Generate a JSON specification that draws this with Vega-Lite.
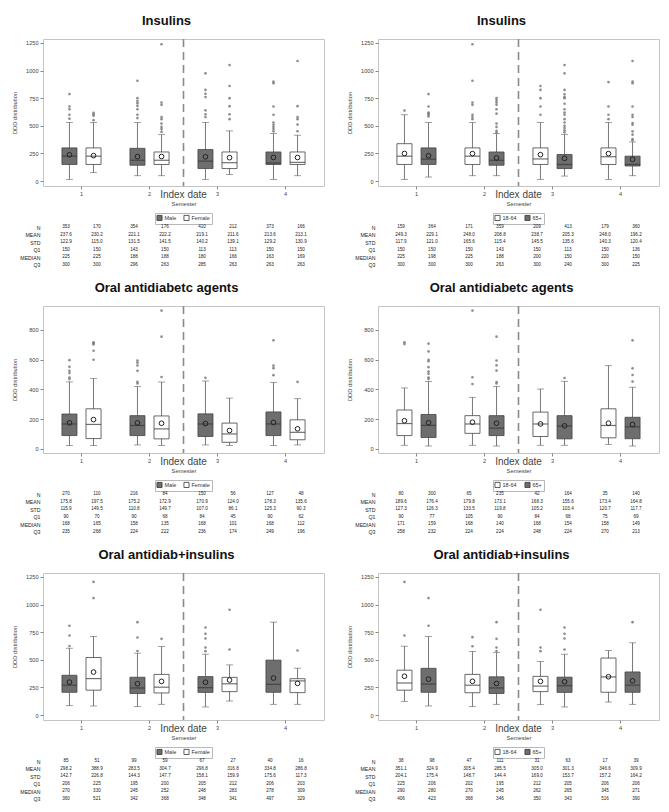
{
"$schema": "https://vega.github.io/schema/vega-lite/v6.json",
"padding": {"left": 11, "top": 14, "right": 5, "bottom": 5},
"config": {
 "font": "Liberation Sans",
 "view": {"stroke": "#c4c4c4", "strokeWidth": 1},
 "axis": {"labelFontSize": 5.6, "labelColor": "#444", "titleFontSize": 5.8, "titleFontWeight": "normal", "titleColor": "#444", "tickColor": "#888", "tickSize": 3, "domain": false, "grid": false, "labelPadding": 2},
 "axisY": {"minExtent": 20, "maxExtent": 20, "titlePadding": 5.5},
 "axisX": {"titlePadding": 4},
 "legend": {"labelFontSize": 5.5, "labelColor": "#333", "symbolType": "square", "symbolSize": 26, "symbolStrokeColor": "#333", "symbolStrokeWidth": 0.8, "strokeColor": "#b8b8b8", "padding": 1.5, "offset": 6, "columnPadding": 5, "labelOffset": 2, "layout": {"bottom": {"anchor": "middle"}}},
 "title": {"fontSize": 13, "fontWeight": "bold", "color": "#111", "offset": 10, "anchor": "middle"}
},
"datasets": {
"boxes": [
{"p":"L1","sem":1,"grp":"Male","lo":15,"q1":150,"med":225,"q3":300,"hi":530,"mean":237.6,"N":"353","MEAN":"237.6","STD":"122.9","Q1":"150","MEDIAN":"225","Q3":"300"},
{"p":"L1","sem":1,"grp":"Female","lo":76,"q1":150,"med":225,"q3":300,"hi":530,"mean":230.2,"N":"170","MEAN":"230.2","STD":"115.0","Q1":"150","MEDIAN":"225","Q3":"300"},
{"p":"L1","sem":2,"grp":"Male","lo":48,"q1":143,"med":188,"q3":296,"hi":530,"mean":221.1,"N":"354","MEAN":"221.1","STD":"131.5","Q1":"143","MEDIAN":"188","Q3":"296"},
{"p":"L1","sem":2,"grp":"Female","lo":48,"q1":150,"med":188,"q3":263,"hi":420,"mean":222.2,"N":"176","MEAN":"222.2","STD":"141.5","Q1":"150","MEDIAN":"188","Q3":"263"},
{"p":"L1","sem":3,"grp":"Male","lo":15,"q1":113,"med":180,"q3":285,"hi":530,"mean":219.1,"N":"410","MEAN":"219.1","STD":"140.2","Q1":"113","MEDIAN":"180","Q3":"285"},
{"p":"L1","sem":3,"grp":"Female","lo":60,"q1":113,"med":166,"q3":263,"hi":454,"mean":211.6,"N":"212","MEAN":"211.6","STD":"139.1","Q1":"113","MEDIAN":"166","Q3":"263"},
{"p":"L1","sem":4,"grp":"Male","lo":15,"q1":150,"med":163,"q3":263,"hi":430,"mean":213.6,"N":"373","MEAN":"213.6","STD":"129.2","Q1":"150","MEDIAN":"163","Q3":"263"},
{"p":"L1","sem":4,"grp":"Female","lo":48,"q1":150,"med":169,"q3":263,"hi":415,"mean":213.1,"N":"166","MEAN":"213.1","STD":"130.9","Q1":"150","MEDIAN":"169","Q3":"263"},
{"p":"R1","sem":1,"grp":"18-64","lo":15,"q1":150,"med":225,"q3":338,"hi":600,"mean":249.3,"N":"159","MEAN":"249.3","STD":"117.9","Q1":"150","MEDIAN":"225","Q3":"300"},
{"p":"R1","sem":1,"grp":"65+","lo":36,"q1":150,"med":198,"q3":300,"hi":530,"mean":229.1,"N":"364","MEAN":"229.1","STD":"121.0","Q1":"150","MEDIAN":"198","Q3":"300"},
{"p":"R1","sem":2,"grp":"18-64","lo":48,"q1":150,"med":225,"q3":300,"hi":530,"mean":248.0,"N":"171","MEAN":"248.0","STD":"165.6","Q1":"150","MEDIAN":"225","Q3":"300"},
{"p":"R1","sem":2,"grp":"65+","lo":48,"q1":143,"med":188,"q3":263,"hi":430,"mean":208.8,"N":"359","MEAN":"208.8","STD":"115.4","Q1":"143","MEDIAN":"188","Q3":"263"},
{"p":"R1","sem":3,"grp":"18-64","lo":15,"q1":150,"med":200,"q3":300,"hi":530,"mean":238.7,"N":"209","MEAN":"238.7","STD":"145.5","Q1":"150","MEDIAN":"200","Q3":"300"},
{"p":"R1","sem":3,"grp":"65+","lo":45,"q1":113,"med":150,"q3":240,"hi":420,"mean":205.3,"N":"413","MEAN":"205.3","STD":"135.6","Q1":"113","MEDIAN":"150","Q3":"240"},
{"p":"R1","sem":4,"grp":"18-64","lo":15,"q1":150,"med":220,"q3":300,"hi":530,"mean":248.0,"N":"179","MEAN":"248.0","STD":"140.3","Q1":"150","MEDIAN":"220","Q3":"300"},
{"p":"R1","sem":4,"grp":"65+","lo":48,"q1":136,"med":150,"q3":225,"hi":354,"mean":196.2,"N":"360","MEAN":"196.2","STD":"120.4","Q1":"136","MEDIAN":"150","Q3":"225"},
{"p":"L2","sem":1,"grp":"Male","lo":23,"q1":90,"med":168,"q3":235,"hi":451,"mean":175.8,"N":"270","MEAN":"175.8","STD":"115.9","Q1":"90","MEDIAN":"168","Q3":"235"},
{"p":"L2","sem":1,"grp":"Female","lo":23,"q1":70,"med":165,"q3":270,"hi":473,"mean":197.5,"N":"110","MEAN":"197.5","STD":"149.5","Q1":"70","MEDIAN":"165","Q3":"268"},
{"p":"L2","sem":2,"grp":"Male","lo":27,"q1":90,"med":158,"q3":224,"hi":420,"mean":175.2,"N":"216","MEAN":"175.2","STD":"110.8","Q1":"90","MEDIAN":"158","Q3":"224"},
{"p":"L2","sem":2,"grp":"Female","lo":23,"q1":68,"med":135,"q3":222,"hi":450,"mean":172.9,"N":"84","MEAN":"172.9","STD":"149.7","Q1":"68","MEDIAN":"135","Q3":"222"},
{"p":"L2","sem":3,"grp":"Male","lo":27,"q1":84,"med":168,"q3":236,"hi":457,"mean":170.9,"N":"150","MEAN":"170.9","STD":"107.0","Q1":"84","MEDIAN":"168","Q3":"236"},
{"p":"L2","sem":3,"grp":"Female","lo":23,"q1":45,"med":101,"q3":174,"hi":342,"mean":124.0,"N":"56","MEAN":"124.0","STD":"86.1","Q1":"45","MEDIAN":"101","Q3":"174"},
{"p":"L2","sem":4,"grp":"Male","lo":23,"q1":90,"med":168,"q3":249,"hi":448,"mean":178.3,"N":"127","MEAN":"178.3","STD":"125.3","Q1":"90","MEDIAN":"168","Q3":"249"},
{"p":"L2","sem":4,"grp":"Female","lo":27,"q1":62,"med":112,"q3":196,"hi":338,"mean":135.6,"N":"48","MEAN":"135.6","STD":"90.3","Q1":"62","MEDIAN":"112","Q3":"196"},
{"p":"R2","sem":1,"grp":"18-64","lo":25,"q1":90,"med":171,"q3":262,"hi":410,"mean":189.6,"N":"80","MEAN":"189.6","STD":"127.3","Q1":"90","MEDIAN":"171","Q3":"258"},
{"p":"R2","sem":1,"grp":"65+","lo":20,"q1":77,"med":159,"q3":232,"hi":453,"mean":176.4,"N":"300","MEAN":"176.4","STD":"126.3","Q1":"77","MEDIAN":"159","Q3":"232"},
{"p":"R2","sem":2,"grp":"18-64","lo":25,"q1":105,"med":168,"q3":224,"hi":347,"mean":179.8,"N":"65","MEAN":"179.8","STD":"133.5","Q1":"105","MEDIAN":"168","Q3":"224"},
{"p":"R2","sem":2,"grp":"65+","lo":20,"q1":90,"med":140,"q3":224,"hi":421,"mean":173.1,"N":"235","MEAN":"173.1","STD":"119.8","Q1":"90","MEDIAN":"140","Q3":"224"},
{"p":"R2","sem":3,"grp":"18-64","lo":25,"q1":84,"med":168,"q3":248,"hi":403,"mean":168.3,"N":"42","MEAN":"168.3","STD":"105.2","Q1":"84","MEDIAN":"168","Q3":"248"},
{"p":"R2","sem":3,"grp":"65+","lo":25,"q1":68,"med":154,"q3":224,"hi":455,"mean":155.6,"N":"164","MEAN":"155.6","STD":"103.4","Q1":"68","MEDIAN":"154","Q3":"224"},
{"p":"R2","sem":4,"grp":"18-64","lo":31,"q1":75,"med":158,"q3":270,"hi":560,"mean":173.4,"N":"35","MEAN":"173.4","STD":"120.7","Q1":"75","MEDIAN":"158","Q3":"270"},
{"p":"R2","sem":4,"grp":"65+","lo":20,"q1":69,"med":149,"q3":213,"hi":415,"mean":164.8,"N":"140","MEAN":"164.8","STD":"117.7","Q1":"69","MEDIAN":"149","Q3":"213"},
{"p":"L3","sem":1,"grp":"Male","lo":85,"q1":206,"med":270,"q3":360,"hi":605,"mean":298.2,"N":"85","MEAN":"298.2","STD":"142.7","Q1":"206","MEDIAN":"270","Q3":"360"},
{"p":"L3","sem":1,"grp":"Female","lo":82,"q1":225,"med":330,"q3":521,"hi":711,"mean":388.9,"N":"51","MEAN":"388.9","STD":"226.8","Q1":"225","MEDIAN":"330","Q3":"521"},
{"p":"L3","sem":2,"grp":"Male","lo":76,"q1":195,"med":245,"q3":342,"hi":560,"mean":283.5,"N":"99","MEAN":"283.5","STD":"144.3","Q1":"195","MEDIAN":"245","Q3":"342"},
{"p":"L3","sem":2,"grp":"Female","lo":97,"q1":200,"med":252,"q3":368,"hi":620,"mean":304.7,"N":"59","MEAN":"304.7","STD":"147.7","Q1":"200","MEDIAN":"252","Q3":"368"},
{"p":"L3","sem":3,"grp":"Male","lo":73,"q1":205,"med":248,"q3":348,"hi":551,"mean":296.8,"N":"67","MEAN":"296.8","STD":"158.1","Q1":"205","MEDIAN":"248","Q3":"348"},
{"p":"L3","sem":3,"grp":"Female","lo":127,"q1":212,"med":283,"q3":341,"hi":454,"mean":316.8,"N":"27","MEAN":"316.8","STD":"159.9","Q1":"212","MEDIAN":"283","Q3":"341"},
{"p":"L3","sem":4,"grp":"Male","lo":97,"q1":206,"med":278,"q3":497,"hi":841,"mean":334.8,"N":"40","MEAN":"334.8","STD":"175.6","Q1":"206","MEDIAN":"278","Q3":"497"},
{"p":"L3","sem":4,"grp":"Female","lo":97,"q1":203,"med":309,"q3":329,"hi":424,"mean":286.8,"N":"16","MEAN":"286.8","STD":"117.3","Q1":"203","MEDIAN":"309","Q3":"329"},
{"p":"R3","sem":1,"grp":"18-64","lo":124,"q1":225,"med":290,"q3":406,"hi":623,"mean":351.1,"N":"38","MEAN":"351.1","STD":"204.1","Q1":"225","MEDIAN":"290","Q3":"406"},
{"p":"R3","sem":1,"grp":"65+","lo":82,"q1":206,"med":280,"q3":423,"hi":711,"mean":324.9,"N":"98","MEAN":"324.9","STD":"175.4","Q1":"206","MEDIAN":"280","Q3":"423"},
{"p":"R3","sem":2,"grp":"18-64","lo":76,"q1":202,"med":270,"q3":368,"hi":575,"mean":305.4,"N":"47","MEAN":"305.4","STD":"148.7","Q1":"202","MEDIAN":"270","Q3":"368"},
{"p":"R3","sem":2,"grp":"65+","lo":97,"q1":195,"med":245,"q3":346,"hi":565,"mean":285.5,"N":"111","MEAN":"285.5","STD":"144.4","Q1":"195","MEDIAN":"245","Q3":"346"},
{"p":"R3","sem":3,"grp":"18-64","lo":94,"q1":212,"med":262,"q3":350,"hi":484,"mean":305.0,"N":"31","MEAN":"305.0","STD":"169.0","Q1":"212","MEDIAN":"262","Q3":"350"},
{"p":"R3","sem":3,"grp":"65+","lo":73,"q1":205,"med":265,"q3":343,"hi":551,"mean":301.3,"N":"63","MEAN":"301.3","STD":"153.7","Q1":"205","MEDIAN":"265","Q3":"343"},
{"p":"R3","sem":4,"grp":"18-64","lo":118,"q1":206,"med":345,"q3":516,"hi":584,"mean":346.6,"N":"17","MEAN":"346.6","STD":"157.2","Q1":"206","MEDIAN":"345","Q3":"516"},
{"p":"R3","sem":4,"grp":"65+","lo":97,"q1":206,"med":271,"q3":390,"hi":654,"mean":309.9,"N":"39","MEAN":"309.9","STD":"164.2","Q1":"206","MEDIAN":"271","Q3":"390"}
],
"outliers": [
{"p":"L1","sem":1,"grp":"Male","v":787},{"p":"L1","sem":1,"grp":"Male","v":675},{"p":"L1","sem":1,"grp":"Male","v":650},{"p":"L1","sem":1,"grp":"Male","v":600},{"p":"L1","sem":1,"grp":"Male","v":565},
{"p":"L1","sem":1,"grp":"Female","v":617},{"p":"L1","sem":1,"grp":"Female","v":605},{"p":"L1","sem":1,"grp":"Female","v":590},{"p":"L1","sem":1,"grp":"Female","v":551},
{"p":"L1","sem":2,"grp":"Male","v":908},{"p":"L1","sem":2,"grp":"Male","v":750},{"p":"L1","sem":2,"grp":"Male","v":725},{"p":"L1","sem":2,"grp":"Male","v":705},{"p":"L1","sem":2,"grp":"Male","v":680},{"p":"L1","sem":2,"grp":"Male","v":650},{"p":"L1","sem":2,"grp":"Male","v":600},{"p":"L1","sem":2,"grp":"Male","v":570},
{"p":"L1","sem":2,"grp":"Female","v":1238},{"p":"L1","sem":2,"grp":"Female","v":711},{"p":"L1","sem":2,"grp":"Female","v":690},{"p":"L1","sem":2,"grp":"Female","v":580},{"p":"L1","sem":2,"grp":"Female","v":560},{"p":"L1","sem":2,"grp":"Female","v":520},{"p":"L1","sem":2,"grp":"Female","v":490},{"p":"L1","sem":2,"grp":"Female","v":470},{"p":"L1","sem":2,"grp":"Female","v":445},
{"p":"L1","sem":3,"grp":"Male","v":975},{"p":"L1","sem":3,"grp":"Male","v":825},{"p":"L1","sem":3,"grp":"Male","v":790},{"p":"L1","sem":3,"grp":"Male","v":760},{"p":"L1","sem":3,"grp":"Male","v":640},{"p":"L1","sem":3,"grp":"Male","v":605},{"p":"L1","sem":3,"grp":"Male","v":580},
{"p":"L1","sem":3,"grp":"Female","v":1050},{"p":"L1","sem":3,"grp":"Female","v":860},{"p":"L1","sem":3,"grp":"Female","v":750},{"p":"L1","sem":3,"grp":"Female","v":678},{"p":"L1","sem":3,"grp":"Female","v":605},{"p":"L1","sem":3,"grp":"Female","v":560},
{"p":"L1","sem":4,"grp":"Male","v":900},{"p":"L1","sem":4,"grp":"Male","v":885},{"p":"L1","sem":4,"grp":"Male","v":675},{"p":"L1","sem":4,"grp":"Male","v":600},{"p":"L1","sem":4,"grp":"Male","v":530},{"p":"L1","sem":4,"grp":"Male","v":510},{"p":"L1","sem":4,"grp":"Male","v":490},{"p":"L1","sem":4,"grp":"Male","v":470},{"p":"L1","sem":4,"grp":"Male","v":450},
{"p":"L1","sem":4,"grp":"Female","v":1087},{"p":"L1","sem":4,"grp":"Female","v":678},{"p":"L1","sem":4,"grp":"Female","v":580},{"p":"L1","sem":4,"grp":"Female","v":560},{"p":"L1","sem":4,"grp":"Female","v":511},{"p":"L1","sem":4,"grp":"Female","v":451},
{"p":"R1","sem":1,"grp":"18-64","v":638},
{"p":"R1","sem":1,"grp":"65+","v":787},{"p":"R1","sem":1,"grp":"65+","v":675},{"p":"R1","sem":1,"grp":"65+","v":620},{"p":"R1","sem":1,"grp":"65+","v":610},{"p":"R1","sem":1,"grp":"65+","v":600},{"p":"R1","sem":1,"grp":"65+","v":585},
{"p":"R1","sem":2,"grp":"18-64","v":1238},{"p":"R1","sem":2,"grp":"18-64","v":908},{"p":"R1","sem":2,"grp":"18-64","v":711},{"p":"R1","sem":2,"grp":"18-64","v":690},{"p":"R1","sem":2,"grp":"18-64","v":600},{"p":"R1","sem":2,"grp":"18-64","v":580},{"p":"R1","sem":2,"grp":"18-64","v":560},
{"p":"R1","sem":2,"grp":"65+","v":750},{"p":"R1","sem":2,"grp":"65+","v":730},{"p":"R1","sem":2,"grp":"65+","v":710},{"p":"R1","sem":2,"grp":"65+","v":690},{"p":"R1","sem":2,"grp":"65+","v":650},{"p":"R1","sem":2,"grp":"65+","v":610},{"p":"R1","sem":2,"grp":"65+","v":520},{"p":"R1","sem":2,"grp":"65+","v":490},{"p":"R1","sem":2,"grp":"65+","v":455},{"p":"R1","sem":2,"grp":"65+","v":440},
{"p":"R1","sem":3,"grp":"18-64","v":860},{"p":"R1","sem":3,"grp":"18-64","v":825},{"p":"R1","sem":3,"grp":"18-64","v":750},{"p":"R1","sem":3,"grp":"18-64","v":675},{"p":"R1","sem":3,"grp":"18-64","v":600},
{"p":"R1","sem":3,"grp":"65+","v":1050},{"p":"R1","sem":3,"grp":"65+","v":975},{"p":"R1","sem":3,"grp":"65+","v":825},{"p":"R1","sem":3,"grp":"65+","v":785},{"p":"R1","sem":3,"grp":"65+","v":760},{"p":"R1","sem":3,"grp":"65+","v":750},{"p":"R1","sem":3,"grp":"65+","v":700},{"p":"R1","sem":3,"grp":"65+","v":650},{"p":"R1","sem":3,"grp":"65+","v":620},{"p":"R1","sem":3,"grp":"65+","v":600},{"p":"R1","sem":3,"grp":"65+","v":560},{"p":"R1","sem":3,"grp":"65+","v":530},{"p":"R1","sem":3,"grp":"65+","v":500},{"p":"R1","sem":3,"grp":"65+","v":480},{"p":"R1","sem":3,"grp":"65+","v":460},{"p":"R1","sem":3,"grp":"65+","v":440},
{"p":"R1","sem":4,"grp":"18-64","v":896},{"p":"R1","sem":4,"grp":"18-64","v":675},{"p":"R1","sem":4,"grp":"18-64","v":600},{"p":"R1","sem":4,"grp":"18-64","v":560},
{"p":"R1","sem":4,"grp":"65+","v":1087},{"p":"R1","sem":4,"grp":"65+","v":900},{"p":"R1","sem":4,"grp":"65+","v":885},{"p":"R1","sem":4,"grp":"65+","v":675},{"p":"R1","sem":4,"grp":"65+","v":600},{"p":"R1","sem":4,"grp":"65+","v":580},{"p":"R1","sem":4,"grp":"65+","v":525},{"p":"R1","sem":4,"grp":"65+","v":510},{"p":"R1","sem":4,"grp":"65+","v":450},{"p":"R1","sem":4,"grp":"65+","v":420},{"p":"R1","sem":4,"grp":"65+","v":380},{"p":"R1","sem":4,"grp":"65+","v":370},
{"p":"L2","sem":1,"grp":"Male","v":597},{"p":"L2","sem":1,"grp":"Male","v":552},{"p":"L2","sem":1,"grp":"Male","v":525},{"p":"L2","sem":1,"grp":"Male","v":510},{"p":"L2","sem":1,"grp":"Male","v":480},{"p":"L2","sem":1,"grp":"Male","v":470},
{"p":"L2","sem":1,"grp":"Female","v":717},{"p":"L2","sem":1,"grp":"Female","v":710},{"p":"L2","sem":1,"grp":"Female","v":703},{"p":"L2","sem":1,"grp":"Female","v":660},{"p":"L2","sem":1,"grp":"Female","v":600},
{"p":"L2","sem":2,"grp":"Male","v":595},{"p":"L2","sem":2,"grp":"Male","v":580},{"p":"L2","sem":2,"grp":"Male","v":561},{"p":"L2","sem":2,"grp":"Male","v":525},{"p":"L2","sem":2,"grp":"Male","v":451},{"p":"L2","sem":2,"grp":"Male","v":440},
{"p":"L2","sem":2,"grp":"Female","v":930},{"p":"L2","sem":2,"grp":"Female","v":755},{"p":"L2","sem":2,"grp":"Female","v":484},
{"p":"L2","sem":3,"grp":"Male","v":478},
{"p":"L2","sem":4,"grp":"Male","v":730},{"p":"L2","sem":4,"grp":"Male","v":560},{"p":"L2","sem":4,"grp":"Male","v":543},{"p":"L2","sem":4,"grp":"Male","v":496},
{"p":"L2","sem":4,"grp":"Female","v":451},
{"p":"R2","sem":1,"grp":"18-64","v":717},{"p":"R2","sem":1,"grp":"18-64","v":705},
{"p":"R2","sem":1,"grp":"65+","v":708},{"p":"R2","sem":1,"grp":"65+","v":656},{"p":"R2","sem":1,"grp":"65+","v":600},{"p":"R2","sem":1,"grp":"65+","v":590},{"p":"R2","sem":1,"grp":"65+","v":550},{"p":"R2","sem":1,"grp":"65+","v":520},{"p":"R2","sem":1,"grp":"65+","v":505},{"p":"R2","sem":1,"grp":"65+","v":480},{"p":"R2","sem":1,"grp":"65+","v":470},
{"p":"R2","sem":2,"grp":"18-64","v":930},{"p":"R2","sem":2,"grp":"18-64","v":482},{"p":"R2","sem":2,"grp":"18-64","v":437},
{"p":"R2","sem":2,"grp":"65+","v":755},{"p":"R2","sem":2,"grp":"65+","v":595},{"p":"R2","sem":2,"grp":"65+","v":562},{"p":"R2","sem":2,"grp":"65+","v":527},{"p":"R2","sem":2,"grp":"65+","v":450},{"p":"R2","sem":2,"grp":"65+","v":440},
{"p":"R2","sem":3,"grp":"65+","v":477},
{"p":"R2","sem":4,"grp":"65+","v":730},{"p":"R2","sem":4,"grp":"65+","v":542},{"p":"R2","sem":4,"grp":"65+","v":497},{"p":"R2","sem":4,"grp":"65+","v":453},
{"p":"L3","sem":1,"grp":"Male","v":808},{"p":"L3","sem":1,"grp":"Male","v":720},{"p":"L3","sem":1,"grp":"Male","v":625},
{"p":"L3","sem":1,"grp":"Female","v":1205},{"p":"L3","sem":1,"grp":"Female","v":1059},
{"p":"L3","sem":2,"grp":"Male","v":841},{"p":"L3","sem":2,"grp":"Male","v":702},{"p":"L3","sem":2,"grp":"Male","v":580},
{"p":"L3","sem":2,"grp":"Female","v":690},
{"p":"L3","sem":3,"grp":"Male","v":793},{"p":"L3","sem":3,"grp":"Male","v":735},{"p":"L3","sem":3,"grp":"Male","v":693},{"p":"L3","sem":3,"grp":"Male","v":611},{"p":"L3","sem":3,"grp":"Male","v":578},
{"p":"L3","sem":3,"grp":"Female","v":953},{"p":"L3","sem":3,"grp":"Female","v":593},
{"p":"L3","sem":4,"grp":"Female","v":584},
{"p":"R3","sem":1,"grp":"18-64","v":1205},{"p":"R3","sem":1,"grp":"18-64","v":720},
{"p":"R3","sem":1,"grp":"65+","v":1059},{"p":"R3","sem":1,"grp":"65+","v":808},
{"p":"R3","sem":2,"grp":"18-64","v":705},{"p":"R3","sem":2,"grp":"18-64","v":623},
{"p":"R3","sem":2,"grp":"65+","v":841},{"p":"R3","sem":2,"grp":"65+","v":690},{"p":"R3","sem":2,"grp":"65+","v":611},{"p":"R3","sem":2,"grp":"65+","v":580},
{"p":"R3","sem":3,"grp":"18-64","v":953},{"p":"R3","sem":3,"grp":"18-64","v":611},{"p":"R3","sem":3,"grp":"18-64","v":578},
{"p":"R3","sem":3,"grp":"65+","v":793},{"p":"R3","sem":3,"grp":"65+","v":735},{"p":"R3","sem":3,"grp":"65+","v":693},{"p":"R3","sem":3,"grp":"65+","v":593},
{"p":"R3","sem":4,"grp":"65+","v":841}
]
},
"columns": 2,
"spacing": {"row": 37.5, "column": 54},
"bounds": "flush",
"align": "each",
"resolve": {"scale": {"color": "independent", "xOffset": "independent", "x": "independent", "y": "independent"}, "legend": {"color": "independent"}},
"concat": [
{
 "title": {"text": "Insulins", "dx": -17},
 "width": 281, "height": 147,
 "layer": [
  {"data": {"name": "boxes"}, "transform": [{"filter": "datum.p == 'L1'"}],
   "encoding": {
    "x": {"field": "sem", "type": "ordinal", "scale": {"type": "band", "paddingInner": 0, "paddingOuter": 0.066}, "axis": {"title": "Semester", "labelAngle": 0}},
    "xOffset": {"field": "grp", "type": "nominal", "scale": {"type": "band", "domain": ["Male", "Female"], "paddingInner": 0.375, "paddingOuter": 0.6}}
   },
   "layer": [
    {"mark": {"type": "rule", "color": "#555", "strokeWidth": 0.8}, "encoding": {"y": {"field": "lo", "type": "quantitative", "title": "DDD distribution", "scale": {"domain": [-45, 1286], "nice": false, "zero": false}, "axis": {"values": [0, 250, 500, 750, 1000, 1250], "format": "d"}}, "y2": {"field": "hi"}}},
    {"mark": {"type": "tick", "orient": "horizontal", "size": 7, "thickness": 0.8, "color": "#555"}, "encoding": {"y": {"field": "lo", "type": "quantitative", "title": "DDD distribution", "scale": {"domain": [-45, 1286], "nice": false, "zero": false}, "axis": {"values": [0, 250, 500, 750, 1000, 1250], "format": "d"}}}},
    {"mark": {"type": "tick", "orient": "horizontal", "size": 7, "thickness": 0.8, "color": "#555"}, "encoding": {"y": {"field": "hi", "type": "quantitative", "title": "DDD distribution", "scale": {"domain": [-45, 1286], "nice": false, "zero": false}, "axis": {"values": [0, 250, 500, 750, 1000, 1250], "format": "d"}}}},
    {"mark": {"type": "bar", "stroke": "#444", "strokeWidth": 0.8}, "encoding": {"y": {"field": "q1", "type": "quantitative", "title": "DDD distribution", "scale": {"domain": [-45, 1286], "nice": false, "zero": false}, "axis": {"values": [0, 250, 500, 750, 1000, 1250], "format": "d"}}, "y2": {"field": "q3"}, "color": {"field": "grp", "type": "nominal", "scale": {"domain": ["Male", "Female"], "range": ["#6e6e6e", "#ffffff"]}, "legend": {"title": null, "orient": "bottom", "direction": "horizontal"}}}},
    {"mark": {"type": "tick", "orient": "horizontal", "size": 15, "thickness": 1.2, "color": "#333"}, "encoding": {"y": {"field": "med", "type": "quantitative", "title": "DDD distribution", "scale": {"domain": [-45, 1286], "nice": false, "zero": false}, "axis": {"values": [0, 250, 500, 750, 1000, 1250], "format": "d"}}}},
    {"mark": {"type": "point", "shape": "circle", "filled": false, "size": 22, "strokeWidth": 1, "color": "#222", "opacity": 1}, "encoding": {"y": {"field": "mean", "type": "quantitative", "title": "DDD distribution", "scale": {"domain": [-45, 1286], "nice": false, "zero": false}, "axis": {"values": [0, 250, 500, 750, 1000, 1250], "format": "d"}}}}
   ]},
  {"data": {"name": "outliers"}, "transform": [{"filter": "datum.p == 'L1'"}],
   "mark": {"type": "point", "shape": "circle", "filled": true, "size": 7, "color": "#7a7a7a", "opacity": 0.85},
   "encoding": {
    "x": {"field": "sem", "type": "ordinal", "scale": {"type": "band", "paddingInner": 0, "paddingOuter": 0.066}, "axis": {"title": "Semester", "labelAngle": 0}},
    "xOffset": {"field": "grp", "type": "nominal", "scale": {"type": "band", "domain": ["Male", "Female"], "paddingInner": 0.375, "paddingOuter": 0.6}},
    "y": {"field": "v", "type": "quantitative", "title": "DDD distribution", "scale": {"domain": [-45, 1286], "nice": false, "zero": false}, "axis": {"values": [0, 250, 500, 750, 1000, 1250], "format": "d"}}
   }},
  {"data": {"values": [{}]}, "mark": {"type": "rule", "color": "#8a8a8a", "strokeWidth": 1.6, "strokeDash": [8, 5]},
   "encoding": {"x": {"datum": 2, "type": "ordinal", "bandPosition": 1, "axis": {"title": "Semester", "labelAngle": 0}}}},
  {"data": {"values": [{}]}, "mark": {"type": "text", "text": "Index date", "fontSize": 10, "color": "#444", "dy": 9, "baseline": "middle"},
   "encoding": {"x": {"datum": 2, "type": "ordinal", "bandPosition": 1, "axis": {"title": "Semester", "labelAngle": 0}}, "y": {"value": "height"}}}
 ]
},
{
 "title": {"text": "Insulins", "dx": -17},
 "width": 281, "height": 147,
 "layer": [
  {"data": {"name": "boxes"}, "transform": [{"filter": "datum.p == 'R1'"}],
   "encoding": {
    "x": {"field": "sem", "type": "ordinal", "scale": {"type": "band", "paddingInner": 0, "paddingOuter": 0.066}, "axis": {"title": "Semester", "labelAngle": 0}},
    "xOffset": {"field": "grp", "type": "nominal", "scale": {"type": "band", "domain": ["18-64", "65+"], "paddingInner": 0.375, "paddingOuter": 0.6}}
   },
   "layer": [
    {"mark": {"type": "rule", "color": "#555", "strokeWidth": 0.8}, "encoding": {"y": {"field": "lo", "type": "quantitative", "title": "DDD distribution", "scale": {"domain": [-45, 1286], "nice": false, "zero": false}, "axis": {"values": [0, 250, 500, 750, 1000, 1250], "format": "d"}}, "y2": {"field": "hi"}}},
    {"mark": {"type": "tick", "orient": "horizontal", "size": 7, "thickness": 0.8, "color": "#555"}, "encoding": {"y": {"field": "lo", "type": "quantitative", "title": "DDD distribution", "scale": {"domain": [-45, 1286], "nice": false, "zero": false}, "axis": {"values": [0, 250, 500, 750, 1000, 1250], "format": "d"}}}},
    {"mark": {"type": "tick", "orient": "horizontal", "size": 7, "thickness": 0.8, "color": "#555"}, "encoding": {"y": {"field": "hi", "type": "quantitative", "title": "DDD distribution", "scale": {"domain": [-45, 1286], "nice": false, "zero": false}, "axis": {"values": [0, 250, 500, 750, 1000, 1250], "format": "d"}}}},
    {"mark": {"type": "bar", "stroke": "#444", "strokeWidth": 0.8}, "encoding": {"y": {"field": "q1", "type": "quantitative", "title": "DDD distribution", "scale": {"domain": [-45, 1286], "nice": false, "zero": false}, "axis": {"values": [0, 250, 500, 750, 1000, 1250], "format": "d"}}, "y2": {"field": "q3"}, "color": {"field": "grp", "type": "nominal", "scale": {"domain": ["18-64", "65+"], "range": ["#ffffff", "#6e6e6e"]}, "legend": {"title": null, "orient": "bottom", "direction": "horizontal"}}}},
    {"mark": {"type": "tick", "orient": "horizontal", "size": 15, "thickness": 1.2, "color": "#333"}, "encoding": {"y": {"field": "med", "type": "quantitative", "title": "DDD distribution", "scale": {"domain": [-45, 1286], "nice": false, "zero": false}, "axis": {"values": [0, 250, 500, 750, 1000, 1250], "format": "d"}}}},
    {"mark": {"type": "point", "shape": "circle", "filled": false, "size": 22, "strokeWidth": 1, "color": "#222", "opacity": 1}, "encoding": {"y": {"field": "mean", "type": "quantitative", "title": "DDD distribution", "scale": {"domain": [-45, 1286], "nice": false, "zero": false}, "axis": {"values": [0, 250, 500, 750, 1000, 1250], "format": "d"}}}}
   ]},
  {"data": {"name": "outliers"}, "transform": [{"filter": "datum.p == 'R1'"}],
   "mark": {"type": "point", "shape": "circle", "filled": true, "size": 7, "color": "#7a7a7a", "opacity": 0.85},
   "encoding": {
    "x": {"field": "sem", "type": "ordinal", "scale": {"type": "band", "paddingInner": 0, "paddingOuter": 0.066}, "axis": {"title": "Semester", "labelAngle": 0}},
    "xOffset": {"field": "grp", "type": "nominal", "scale": {"type": "band", "domain": ["18-64", "65+"], "paddingInner": 0.375, "paddingOuter": 0.6}},
    "y": {"field": "v", "type": "quantitative", "title": "DDD distribution", "scale": {"domain": [-45, 1286], "nice": false, "zero": false}, "axis": {"values": [0, 250, 500, 750, 1000, 1250], "format": "d"}}
   }},
  {"data": {"values": [{}]}, "mark": {"type": "rule", "color": "#8a8a8a", "strokeWidth": 1.6, "strokeDash": [8, 5]},
   "encoding": {"x": {"datum": 2, "type": "ordinal", "bandPosition": 1, "axis": {"title": "Semester", "labelAngle": 0}}}},
  {"data": {"values": [{}]}, "mark": {"type": "text", "text": "Index date", "fontSize": 10, "color": "#444", "dy": 9, "baseline": "middle"},
   "encoding": {"x": {"datum": 2, "type": "ordinal", "bandPosition": 1, "axis": {"title": "Semester", "labelAngle": 0}}, "y": {"value": "height"}}}
 ]
},
{
 "width": 281, "height": 45, "view": {"stroke": null},
 "data": {"name": "boxes"},
 "transform": [{"filter": "datum.p == 'L1'"}, {"fold": ["N", "MEAN", "STD", "Q1", "MEDIAN", "Q3"], "as": ["stat", "txt"]}],
 "mark": {"type": "text", "fontSize": 4.6, "color": "#222"},
 "encoding": {
  "x": {"field": "sem", "type": "ordinal", "scale": {"type": "band", "paddingInner": 0, "paddingOuter": 0.066}, "axis": null},
  "xOffset": {"field": "grp", "type": "nominal", "scale": {"type": "band", "domain": ["Male", "Female"], "paddingInner": 0, "paddingOuter": 0.1}},
  "y": {"field": "stat", "type": "nominal", "sort": ["N", "MEAN", "STD", "Q1", "MEDIAN", "Q3"], "scale": {"type": "point", "padding": 0.5}, "axis": {"title": null, "ticks": false, "domain": false, "labelFontSize": 5.2, "labelPadding": 3, "labelColor": "#222"}},
  "text": {"field": "txt"}
 }
},
{
 "width": 281, "height": 45, "view": {"stroke": null},
 "data": {"name": "boxes"},
 "transform": [{"filter": "datum.p == 'R1'"}, {"fold": ["N", "MEAN", "STD", "Q1", "MEDIAN", "Q3"], "as": ["stat", "txt"]}],
 "mark": {"type": "text", "fontSize": 4.6, "color": "#222"},
 "encoding": {
  "x": {"field": "sem", "type": "ordinal", "scale": {"type": "band", "paddingInner": 0, "paddingOuter": 0.066}, "axis": null},
  "xOffset": {"field": "grp", "type": "nominal", "scale": {"type": "band", "domain": ["18-64", "65+"], "paddingInner": 0, "paddingOuter": 0.1}},
  "y": {"field": "stat", "type": "nominal", "sort": ["N", "MEAN", "STD", "Q1", "MEDIAN", "Q3"], "scale": {"type": "point", "padding": 0.5}, "axis": {"title": null, "ticks": false, "domain": false, "labelFontSize": 5.2, "labelPadding": 3, "labelColor": "#222"}},
  "text": {"field": "txt"}
 }
},
{
 "title": {"text": "Oral antidiabetc agents", "dx": -17},
 "width": 281, "height": 147,
 "layer": [
  {"data": {"name": "boxes"}, "transform": [{"filter": "datum.p == 'L2'"}],
   "encoding": {
    "x": {"field": "sem", "type": "ordinal", "scale": {"type": "band", "paddingInner": 0, "paddingOuter": 0.066}, "axis": {"title": "Semester", "labelAngle": 0}},
    "xOffset": {"field": "grp", "type": "nominal", "scale": {"type": "band", "domain": ["Male", "Female"], "paddingInner": 0.375, "paddingOuter": 0.6}}
   },
   "layer": [
    {"mark": {"type": "rule", "color": "#555", "strokeWidth": 0.8}, "encoding": {"y": {"field": "lo", "type": "quantitative", "title": "DDD distribution", "scale": {"domain": [-27, 961], "nice": false, "zero": false}, "axis": {"values": [0, 200, 400, 600, 800], "format": "d"}}, "y2": {"field": "hi"}}},
    {"mark": {"type": "tick", "orient": "horizontal", "size": 7, "thickness": 0.8, "color": "#555"}, "encoding": {"y": {"field": "lo", "type": "quantitative", "title": "DDD distribution", "scale": {"domain": [-27, 961], "nice": false, "zero": false}, "axis": {"values": [0, 200, 400, 600, 800], "format": "d"}}}},
    {"mark": {"type": "tick", "orient": "horizontal", "size": 7, "thickness": 0.8, "color": "#555"}, "encoding": {"y": {"field": "hi", "type": "quantitative", "title": "DDD distribution", "scale": {"domain": [-27, 961], "nice": false, "zero": false}, "axis": {"values": [0, 200, 400, 600, 800], "format": "d"}}}},
    {"mark": {"type": "bar", "stroke": "#444", "strokeWidth": 0.8}, "encoding": {"y": {"field": "q1", "type": "quantitative", "title": "DDD distribution", "scale": {"domain": [-27, 961], "nice": false, "zero": false}, "axis": {"values": [0, 200, 400, 600, 800], "format": "d"}}, "y2": {"field": "q3"}, "color": {"field": "grp", "type": "nominal", "scale": {"domain": ["Male", "Female"], "range": ["#6e6e6e", "#ffffff"]}, "legend": {"title": null, "orient": "bottom", "direction": "horizontal"}}}},
    {"mark": {"type": "tick", "orient": "horizontal", "size": 15, "thickness": 1.2, "color": "#333"}, "encoding": {"y": {"field": "med", "type": "quantitative", "title": "DDD distribution", "scale": {"domain": [-27, 961], "nice": false, "zero": false}, "axis": {"values": [0, 200, 400, 600, 800], "format": "d"}}}},
    {"mark": {"type": "point", "shape": "circle", "filled": false, "size": 22, "strokeWidth": 1, "color": "#222", "opacity": 1}, "encoding": {"y": {"field": "mean", "type": "quantitative", "title": "DDD distribution", "scale": {"domain": [-27, 961], "nice": false, "zero": false}, "axis": {"values": [0, 200, 400, 600, 800], "format": "d"}}}}
   ]},
  {"data": {"name": "outliers"}, "transform": [{"filter": "datum.p == 'L2'"}],
   "mark": {"type": "point", "shape": "circle", "filled": true, "size": 7, "color": "#7a7a7a", "opacity": 0.85},
   "encoding": {
    "x": {"field": "sem", "type": "ordinal", "scale": {"type": "band", "paddingInner": 0, "paddingOuter": 0.066}, "axis": {"title": "Semester", "labelAngle": 0}},
    "xOffset": {"field": "grp", "type": "nominal", "scale": {"type": "band", "domain": ["Male", "Female"], "paddingInner": 0.375, "paddingOuter": 0.6}},
    "y": {"field": "v", "type": "quantitative", "title": "DDD distribution", "scale": {"domain": [-27, 961], "nice": false, "zero": false}, "axis": {"values": [0, 200, 400, 600, 800], "format": "d"}}
   }},
  {"data": {"values": [{}]}, "mark": {"type": "rule", "color": "#8a8a8a", "strokeWidth": 1.6, "strokeDash": [8, 5]},
   "encoding": {"x": {"datum": 2, "type": "ordinal", "bandPosition": 1, "axis": {"title": "Semester", "labelAngle": 0}}}},
  {"data": {"values": [{}]}, "mark": {"type": "text", "text": "Index date", "fontSize": 10, "color": "#444", "dy": 9, "baseline": "middle"},
   "encoding": {"x": {"datum": 2, "type": "ordinal", "bandPosition": 1, "axis": {"title": "Semester", "labelAngle": 0}}, "y": {"value": "height"}}}
 ]
},
{
 "title": {"text": "Oral antidiabetc agents", "dx": -17},
 "width": 281, "height": 147,
 "layer": [
  {"data": {"name": "boxes"}, "transform": [{"filter": "datum.p == 'R2'"}],
   "encoding": {
    "x": {"field": "sem", "type": "ordinal", "scale": {"type": "band", "paddingInner": 0, "paddingOuter": 0.066}, "axis": {"title": "Semester", "labelAngle": 0}},
    "xOffset": {"field": "grp", "type": "nominal", "scale": {"type": "band", "domain": ["18-64", "65+"], "paddingInner": 0.375, "paddingOuter": 0.6}}
   },
   "layer": [
    {"mark": {"type": "rule", "color": "#555", "strokeWidth": 0.8}, "encoding": {"y": {"field": "lo", "type": "quantitative", "title": "DDD distribution", "scale": {"domain": [-27, 961], "nice": false, "zero": false}, "axis": {"values": [0, 200, 400, 600, 800], "format": "d"}}, "y2": {"field": "hi"}}},
    {"mark": {"type": "tick", "orient": "horizontal", "size": 7, "thickness": 0.8, "color": "#555"}, "encoding": {"y": {"field": "lo", "type": "quantitative", "title": "DDD distribution", "scale": {"domain": [-27, 961], "nice": false, "zero": false}, "axis": {"values": [0, 200, 400, 600, 800], "format": "d"}}}},
    {"mark": {"type": "tick", "orient": "horizontal", "size": 7, "thickness": 0.8, "color": "#555"}, "encoding": {"y": {"field": "hi", "type": "quantitative", "title": "DDD distribution", "scale": {"domain": [-27, 961], "nice": false, "zero": false}, "axis": {"values": [0, 200, 400, 600, 800], "format": "d"}}}},
    {"mark": {"type": "bar", "stroke": "#444", "strokeWidth": 0.8}, "encoding": {"y": {"field": "q1", "type": "quantitative", "title": "DDD distribution", "scale": {"domain": [-27, 961], "nice": false, "zero": false}, "axis": {"values": [0, 200, 400, 600, 800], "format": "d"}}, "y2": {"field": "q3"}, "color": {"field": "grp", "type": "nominal", "scale": {"domain": ["18-64", "65+"], "range": ["#ffffff", "#6e6e6e"]}, "legend": {"title": null, "orient": "bottom", "direction": "horizontal"}}}},
    {"mark": {"type": "tick", "orient": "horizontal", "size": 15, "thickness": 1.2, "color": "#333"}, "encoding": {"y": {"field": "med", "type": "quantitative", "title": "DDD distribution", "scale": {"domain": [-27, 961], "nice": false, "zero": false}, "axis": {"values": [0, 200, 400, 600, 800], "format": "d"}}}},
    {"mark": {"type": "point", "shape": "circle", "filled": false, "size": 22, "strokeWidth": 1, "color": "#222", "opacity": 1}, "encoding": {"y": {"field": "mean", "type": "quantitative", "title": "DDD distribution", "scale": {"domain": [-27, 961], "nice": false, "zero": false}, "axis": {"values": [0, 200, 400, 600, 800], "format": "d"}}}}
   ]},
  {"data": {"name": "outliers"}, "transform": [{"filter": "datum.p == 'R2'"}],
   "mark": {"type": "point", "shape": "circle", "filled": true, "size": 7, "color": "#7a7a7a", "opacity": 0.85},
   "encoding": {
    "x": {"field": "sem", "type": "ordinal", "scale": {"type": "band", "paddingInner": 0, "paddingOuter": 0.066}, "axis": {"title": "Semester", "labelAngle": 0}},
    "xOffset": {"field": "grp", "type": "nominal", "scale": {"type": "band", "domain": ["18-64", "65+"], "paddingInner": 0.375, "paddingOuter": 0.6}},
    "y": {"field": "v", "type": "quantitative", "title": "DDD distribution", "scale": {"domain": [-27, 961], "nice": false, "zero": false}, "axis": {"values": [0, 200, 400, 600, 800], "format": "d"}}
   }},
  {"data": {"values": [{}]}, "mark": {"type": "rule", "color": "#8a8a8a", "strokeWidth": 1.6, "strokeDash": [8, 5]},
   "encoding": {"x": {"datum": 2, "type": "ordinal", "bandPosition": 1, "axis": {"title": "Semester", "labelAngle": 0}}}},
  {"data": {"values": [{}]}, "mark": {"type": "text", "text": "Index date", "fontSize": 10, "color": "#444", "dy": 9, "baseline": "middle"},
   "encoding": {"x": {"datum": 2, "type": "ordinal", "bandPosition": 1, "axis": {"title": "Semester", "labelAngle": 0}}, "y": {"value": "height"}}}
 ]
},
{
 "width": 281, "height": 45, "view": {"stroke": null},
 "data": {"name": "boxes"},
 "transform": [{"filter": "datum.p == 'L2'"}, {"fold": ["N", "MEAN", "STD", "Q1", "MEDIAN", "Q3"], "as": ["stat", "txt"]}],
 "mark": {"type": "text", "fontSize": 4.6, "color": "#222"},
 "encoding": {
  "x": {"field": "sem", "type": "ordinal", "scale": {"type": "band", "paddingInner": 0, "paddingOuter": 0.066}, "axis": null},
  "xOffset": {"field": "grp", "type": "nominal", "scale": {"type": "band", "domain": ["Male", "Female"], "paddingInner": 0, "paddingOuter": 0.1}},
  "y": {"field": "stat", "type": "nominal", "sort": ["N", "MEAN", "STD", "Q1", "MEDIAN", "Q3"], "scale": {"type": "point", "padding": 0.5}, "axis": {"title": null, "ticks": false, "domain": false, "labelFontSize": 5.2, "labelPadding": 3, "labelColor": "#222"}},
  "text": {"field": "txt"}
 }
},
{
 "width": 281, "height": 45, "view": {"stroke": null},
 "data": {"name": "boxes"},
 "transform": [{"filter": "datum.p == 'R2'"}, {"fold": ["N", "MEAN", "STD", "Q1", "MEDIAN", "Q3"], "as": ["stat", "txt"]}],
 "mark": {"type": "text", "fontSize": 4.6, "color": "#222"},
 "encoding": {
  "x": {"field": "sem", "type": "ordinal", "scale": {"type": "band", "paddingInner": 0, "paddingOuter": 0.066}, "axis": null},
  "xOffset": {"field": "grp", "type": "nominal", "scale": {"type": "band", "domain": ["18-64", "65+"], "paddingInner": 0, "paddingOuter": 0.1}},
  "y": {"field": "stat", "type": "nominal", "sort": ["N", "MEAN", "STD", "Q1", "MEDIAN", "Q3"], "scale": {"type": "point", "padding": 0.5}, "axis": {"title": null, "ticks": false, "domain": false, "labelFontSize": 5.2, "labelPadding": 3, "labelColor": "#222"}},
  "text": {"field": "txt"}
 }
},
{
 "title": {"text": "Oral antidiab+insulins", "dx": -17},
 "width": 281, "height": 147,
 "layer": [
  {"data": {"name": "boxes"}, "transform": [{"filter": "datum.p == 'L3'"}],
   "encoding": {
    "x": {"field": "sem", "type": "ordinal", "scale": {"type": "band", "paddingInner": 0, "paddingOuter": 0.066}, "axis": {"title": "Semester", "labelAngle": 0}},
    "xOffset": {"field": "grp", "type": "nominal", "scale": {"type": "band", "domain": ["Male", "Female"], "paddingInner": 0.375, "paddingOuter": 0.6}}
   },
   "layer": [
    {"mark": {"type": "rule", "color": "#555", "strokeWidth": 0.8}, "encoding": {"y": {"field": "lo", "type": "quantitative", "title": "DDD distribution", "scale": {"domain": [-45, 1286], "nice": false, "zero": false}, "axis": {"values": [0, 250, 500, 750, 1000, 1250], "format": "d"}}, "y2": {"field": "hi"}}},
    {"mark": {"type": "tick", "orient": "horizontal", "size": 7, "thickness": 0.8, "color": "#555"}, "encoding": {"y": {"field": "lo", "type": "quantitative", "title": "DDD distribution", "scale": {"domain": [-45, 1286], "nice": false, "zero": false}, "axis": {"values": [0, 250, 500, 750, 1000, 1250], "format": "d"}}}},
    {"mark": {"type": "tick", "orient": "horizontal", "size": 7, "thickness": 0.8, "color": "#555"}, "encoding": {"y": {"field": "hi", "type": "quantitative", "title": "DDD distribution", "scale": {"domain": [-45, 1286], "nice": false, "zero": false}, "axis": {"values": [0, 250, 500, 750, 1000, 1250], "format": "d"}}}},
    {"mark": {"type": "bar", "stroke": "#444", "strokeWidth": 0.8}, "encoding": {"y": {"field": "q1", "type": "quantitative", "title": "DDD distribution", "scale": {"domain": [-45, 1286], "nice": false, "zero": false}, "axis": {"values": [0, 250, 500, 750, 1000, 1250], "format": "d"}}, "y2": {"field": "q3"}, "color": {"field": "grp", "type": "nominal", "scale": {"domain": ["Male", "Female"], "range": ["#6e6e6e", "#ffffff"]}, "legend": {"title": null, "orient": "bottom", "direction": "horizontal"}}}},
    {"mark": {"type": "tick", "orient": "horizontal", "size": 15, "thickness": 1.2, "color": "#333"}, "encoding": {"y": {"field": "med", "type": "quantitative", "title": "DDD distribution", "scale": {"domain": [-45, 1286], "nice": false, "zero": false}, "axis": {"values": [0, 250, 500, 750, 1000, 1250], "format": "d"}}}},
    {"mark": {"type": "point", "shape": "circle", "filled": false, "size": 22, "strokeWidth": 1, "color": "#222", "opacity": 1}, "encoding": {"y": {"field": "mean", "type": "quantitative", "title": "DDD distribution", "scale": {"domain": [-45, 1286], "nice": false, "zero": false}, "axis": {"values": [0, 250, 500, 750, 1000, 1250], "format": "d"}}}}
   ]},
  {"data": {"name": "outliers"}, "transform": [{"filter": "datum.p == 'L3'"}],
   "mark": {"type": "point", "shape": "circle", "filled": true, "size": 7, "color": "#7a7a7a", "opacity": 0.85},
   "encoding": {
    "x": {"field": "sem", "type": "ordinal", "scale": {"type": "band", "paddingInner": 0, "paddingOuter": 0.066}, "axis": {"title": "Semester", "labelAngle": 0}},
    "xOffset": {"field": "grp", "type": "nominal", "scale": {"type": "band", "domain": ["Male", "Female"], "paddingInner": 0.375, "paddingOuter": 0.6}},
    "y": {"field": "v", "type": "quantitative", "title": "DDD distribution", "scale": {"domain": [-45, 1286], "nice": false, "zero": false}, "axis": {"values": [0, 250, 500, 750, 1000, 1250], "format": "d"}}
   }},
  {"data": {"values": [{}]}, "mark": {"type": "rule", "color": "#8a8a8a", "strokeWidth": 1.6, "strokeDash": [8, 5]},
   "encoding": {"x": {"datum": 2, "type": "ordinal", "bandPosition": 1, "axis": {"title": "Semester", "labelAngle": 0}}}},
  {"data": {"values": [{}]}, "mark": {"type": "text", "text": "Index date", "fontSize": 10, "color": "#444", "dy": 9, "baseline": "middle"},
   "encoding": {"x": {"datum": 2, "type": "ordinal", "bandPosition": 1, "axis": {"title": "Semester", "labelAngle": 0}}, "y": {"value": "height"}}}
 ]
},
{
 "title": {"text": "Oral antidiab+insulins", "dx": -17},
 "width": 281, "height": 147,
 "layer": [
  {"data": {"name": "boxes"}, "transform": [{"filter": "datum.p == 'R3'"}],
   "encoding": {
    "x": {"field": "sem", "type": "ordinal", "scale": {"type": "band", "paddingInner": 0, "paddingOuter": 0.066}, "axis": {"title": "Semester", "labelAngle": 0}},
    "xOffset": {"field": "grp", "type": "nominal", "scale": {"type": "band", "domain": ["18-64", "65+"], "paddingInner": 0.375, "paddingOuter": 0.6}}
   },
   "layer": [
    {"mark": {"type": "rule", "color": "#555", "strokeWidth": 0.8}, "encoding": {"y": {"field": "lo", "type": "quantitative", "title": "DDD distribution", "scale": {"domain": [-45, 1286], "nice": false, "zero": false}, "axis": {"values": [0, 250, 500, 750, 1000, 1250], "format": "d"}}, "y2": {"field": "hi"}}},
    {"mark": {"type": "tick", "orient": "horizontal", "size": 7, "thickness": 0.8, "color": "#555"}, "encoding": {"y": {"field": "lo", "type": "quantitative", "title": "DDD distribution", "scale": {"domain": [-45, 1286], "nice": false, "zero": false}, "axis": {"values": [0, 250, 500, 750, 1000, 1250], "format": "d"}}}},
    {"mark": {"type": "tick", "orient": "horizontal", "size": 7, "thickness": 0.8, "color": "#555"}, "encoding": {"y": {"field": "hi", "type": "quantitative", "title": "DDD distribution", "scale": {"domain": [-45, 1286], "nice": false, "zero": false}, "axis": {"values": [0, 250, 500, 750, 1000, 1250], "format": "d"}}}},
    {"mark": {"type": "bar", "stroke": "#444", "strokeWidth": 0.8}, "encoding": {"y": {"field": "q1", "type": "quantitative", "title": "DDD distribution", "scale": {"domain": [-45, 1286], "nice": false, "zero": false}, "axis": {"values": [0, 250, 500, 750, 1000, 1250], "format": "d"}}, "y2": {"field": "q3"}, "color": {"field": "grp", "type": "nominal", "scale": {"domain": ["18-64", "65+"], "range": ["#ffffff", "#6e6e6e"]}, "legend": {"title": null, "orient": "bottom", "direction": "horizontal"}}}},
    {"mark": {"type": "tick", "orient": "horizontal", "size": 15, "thickness": 1.2, "color": "#333"}, "encoding": {"y": {"field": "med", "type": "quantitative", "title": "DDD distribution", "scale": {"domain": [-45, 1286], "nice": false, "zero": false}, "axis": {"values": [0, 250, 500, 750, 1000, 1250], "format": "d"}}}},
    {"mark": {"type": "point", "shape": "circle", "filled": false, "size": 22, "strokeWidth": 1, "color": "#222", "opacity": 1}, "encoding": {"y": {"field": "mean", "type": "quantitative", "title": "DDD distribution", "scale": {"domain": [-45, 1286], "nice": false, "zero": false}, "axis": {"values": [0, 250, 500, 750, 1000, 1250], "format": "d"}}}}
   ]},
  {"data": {"name": "outliers"}, "transform": [{"filter": "datum.p == 'R3'"}],
   "mark": {"type": "point", "shape": "circle", "filled": true, "size": 7, "color": "#7a7a7a", "opacity": 0.85},
   "encoding": {
    "x": {"field": "sem", "type": "ordinal", "scale": {"type": "band", "paddingInner": 0, "paddingOuter": 0.066}, "axis": {"title": "Semester", "labelAngle": 0}},
    "xOffset": {"field": "grp", "type": "nominal", "scale": {"type": "band", "domain": ["18-64", "65+"], "paddingInner": 0.375, "paddingOuter": 0.6}},
    "y": {"field": "v", "type": "quantitative", "title": "DDD distribution", "scale": {"domain": [-45, 1286], "nice": false, "zero": false}, "axis": {"values": [0, 250, 500, 750, 1000, 1250], "format": "d"}}
   }},
  {"data": {"values": [{}]}, "mark": {"type": "rule", "color": "#8a8a8a", "strokeWidth": 1.6, "strokeDash": [8, 5]},
   "encoding": {"x": {"datum": 2, "type": "ordinal", "bandPosition": 1, "axis": {"title": "Semester", "labelAngle": 0}}}},
  {"data": {"values": [{}]}, "mark": {"type": "text", "text": "Index date", "fontSize": 10, "color": "#444", "dy": 9, "baseline": "middle"},
   "encoding": {"x": {"datum": 2, "type": "ordinal", "bandPosition": 1, "axis": {"title": "Semester", "labelAngle": 0}}, "y": {"value": "height"}}}
 ]
},
{
 "width": 281, "height": 45, "view": {"stroke": null},
 "data": {"name": "boxes"},
 "transform": [{"filter": "datum.p == 'L3'"}, {"fold": ["N", "MEAN", "STD", "Q1", "MEDIAN", "Q3"], "as": ["stat", "txt"]}],
 "mark": {"type": "text", "fontSize": 4.6, "color": "#222"},
 "encoding": {
  "x": {"field": "sem", "type": "ordinal", "scale": {"type": "band", "paddingInner": 0, "paddingOuter": 0.066}, "axis": null},
  "xOffset": {"field": "grp", "type": "nominal", "scale": {"type": "band", "domain": ["Male", "Female"], "paddingInner": 0, "paddingOuter": 0.1}},
  "y": {"field": "stat", "type": "nominal", "sort": ["N", "MEAN", "STD", "Q1", "MEDIAN", "Q3"], "scale": {"type": "point", "padding": 0.5}, "axis": {"title": null, "ticks": false, "domain": false, "labelFontSize": 5.2, "labelPadding": 3, "labelColor": "#222"}},
  "text": {"field": "txt"}
 }
},
{
 "width": 281, "height": 45, "view": {"stroke": null},
 "data": {"name": "boxes"},
 "transform": [{"filter": "datum.p == 'R3'"}, {"fold": ["N", "MEAN", "STD", "Q1", "MEDIAN", "Q3"], "as": ["stat", "txt"]}],
 "mark": {"type": "text", "fontSize": 4.6, "color": "#222"},
 "encoding": {
  "x": {"field": "sem", "type": "ordinal", "scale": {"type": "band", "paddingInner": 0, "paddingOuter": 0.066}, "axis": null},
  "xOffset": {"field": "grp", "type": "nominal", "scale": {"type": "band", "domain": ["18-64", "65+"], "paddingInner": 0, "paddingOuter": 0.1}},
  "y": {"field": "stat", "type": "nominal", "sort": ["N", "MEAN", "STD", "Q1", "MEDIAN", "Q3"], "scale": {"type": "point", "padding": 0.5}, "axis": {"title": null, "ticks": false, "domain": false, "labelFontSize": 5.2, "labelPadding": 3, "labelColor": "#222"}},
  "text": {"field": "txt"}
 }
}
]
}
